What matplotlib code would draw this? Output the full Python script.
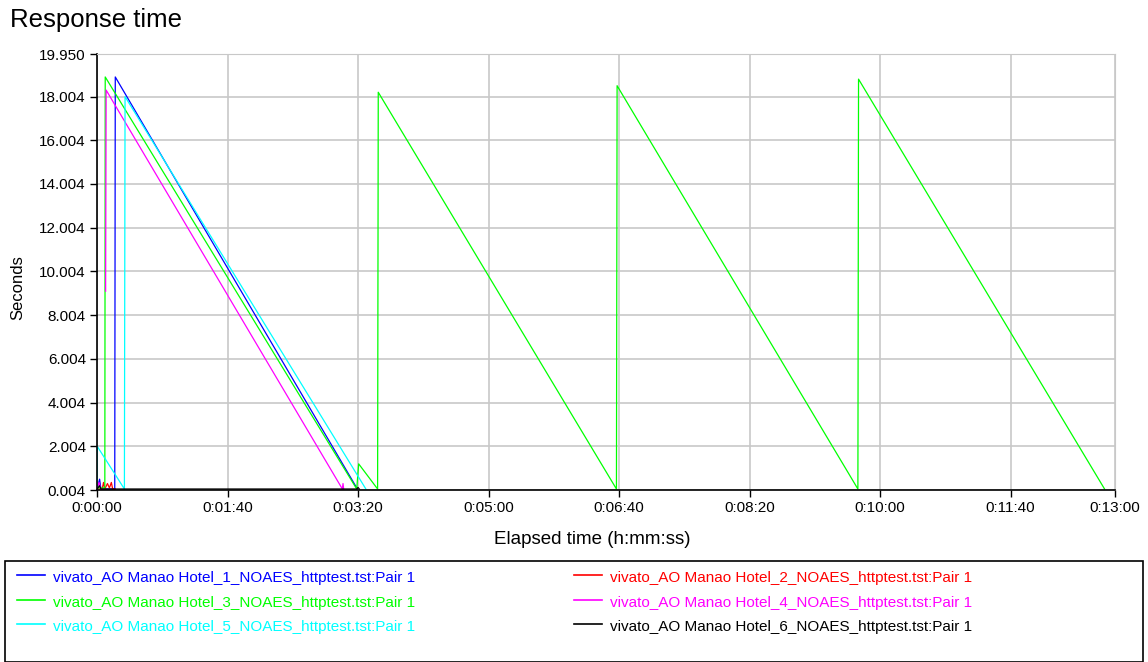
import numpy as np
import matplotlib
matplotlib.use("Agg")
from matplotlib import pyplot as plt
from matplotlib.lines import Line2D
from matplotlib.patches import Rectangle

plt.rcParams['font.family'] = ['Liberation Sans', 'DejaVu Sans']

# series: elapsed seconds / response time in seconds
names = ["vivato_AO Manao Hotel_1_NOAES_httptest.tst:Pair 1",
         "vivato_AO Manao Hotel_2_NOAES_httptest.tst:Pair 1",
         "vivato_AO Manao Hotel_3_NOAES_httptest.tst:Pair 1",
         "vivato_AO Manao Hotel_4_NOAES_httptest.tst:Pair 1",
         "vivato_AO Manao Hotel_5_NOAES_httptest.tst:Pair 1",
         "vivato_AO Manao Hotel_6_NOAES_httptest.tst:Pair 1"]
colors = ["#0000ff", "#ff0000", "#00ff00", "#ff00ff", "#00ffff", "#000000"]

t1 = [0, 2, 3, 13.6, 14.0, 199.5]
v1 = [0.05, 0.5, 0.05, 0.05, 18.9, 0.05]

t2 = [0, 4, 5, 6, 8, 9.5, 11, 12, 14]
v2 = [0.05, 0.05, 0.35, 0.05, 0.3, 0.1, 0.35, 0.05, 0.05]

t3 = [0, 6.0, 6.3, 199, 200.5, 215, 215.5, 398, 398.5, 583, 583.5, 772]
v3 = [0.1, 0.1, 18.9, 0.05, 1.2, 0.05, 18.2, 0.05, 18.5, 0.05, 18.8, 0.05]

t4 = [0, 1.5, 3, np.nan, 6.6, 7.0, 188, 188.5, 189]
v4 = [0.05, 0.35, 0.05, np.nan, 9.1, 18.3, 0.05, 0.3, 0.05]

t5 = [0, 0.2, 21, 21.5, 206]
v5 = [0.05, 2.0, 0.05, 18.0, 0.05]

t6 = [0, 2, 3, 199, 200, 201]
v6 = [0.05, 0.2, 0.05, 0.05, 0.12, 0.05]

times = [t1, t2, t3, t4, t5, t6]
values = [v1, v2, v3, v4, v5, v6]

xticks = [0, 100, 200, 300, 400, 500, 600, 700, 780]
xlabels = ["0:00:00", "0:01:40", "0:03:20", "0:05:00", "0:06:40",
           "0:08:20", "0:10:00", "0:11:40", "0:13:00"]
yticks = [0.004, 2.004, 4.004, 6.004, 8.004, 10.004, 12.004, 14.004, 16.004, 18.004, 19.950]
ylabels = ["0.004", "2.004", "4.004", "6.004", "8.004", "10.004",
           "12.004", "14.004", "16.004", "18.004", "19.950"]

W, H = 1148, 662
fig = plt.figure(figsize=(W / 100, H / 100), dpi=100)
ax = fig.add_axes([97 / W, (H - 490) / H, (1115 - 97) / W, (490 - 54) / H])

for t, v, c in zip(times, values, colors):
    ax.plot(t, v, color=c, lw=0.9)

ax.set_xlim(0, 780)
ax.set_ylim(0.004, 19.950)
ax.set_xticks(xticks)
ax.set_xticklabels(xlabels, fontsize=11)
ax.set_yticks(yticks)
ax.set_yticklabels(ylabels, fontsize=11)
ax.grid(True, color="#c8c8c8", lw=1.2)
ax.set_axisbelow(True)
ax.tick_params(direction="out", length=5, width=1, color="black", pad=3)
for s in ["top", "right"]:
    ax.spines[s].set_color("#c8c8c8")
for s in ["left", "bottom"]:
    ax.spines[s].set_color("black")
    ax.spines[s].set_linewidth(1.2)

fig.text(592 / W, 1 - 540 / H, "Elapsed time (h:mm:ss)", fontsize=13.5,
         ha="center", va="center")
fig.text(18 / W, 1 - 288 / H, "Seconds", fontsize=12, rotation=90,
         ha="center", va="center")

fig.text(10 / W, 1 - 20 / H, "Response time", fontsize=18.5, va="center", ha="left")

# legend box
fig.patches.append(Rectangle((5 / W, 0), (1143 - 5) / W, (H - 561) / H,
                             transform=fig.transFigure, fill=False,
                             edgecolor="black", lw=1.2))
col_x = [17, 574]
row_y = [578, 603, 627]
for i, (name, c) in enumerate(zip(names, colors)):
    cx = col_x[i % 2]
    cy = 1 - row_y[i // 2] / H
    fig.lines.append(Line2D([cx / W, (cx + 28) / W], [cy + 3 / H, cy + 3 / H],
                            transform=fig.transFigure, color=c, lw=1.2))
    fig.text((cx + 36) / W, cy, name, color=c, fontsize=11, va="center", ha="left")

fig.savefig("out.png", dpi=100)
